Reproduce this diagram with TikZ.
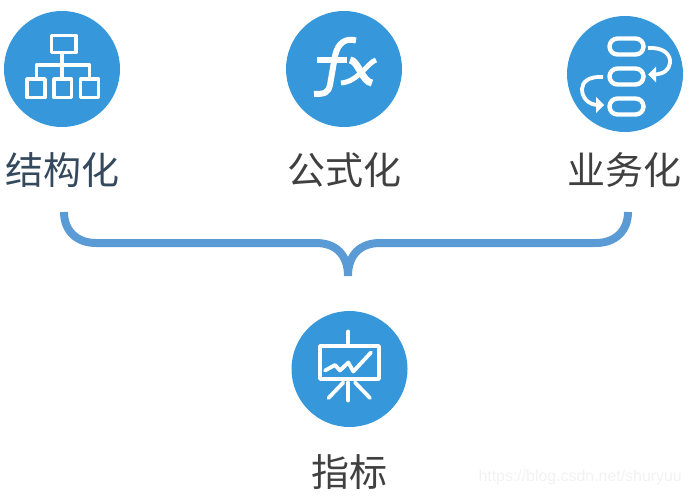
\documentclass[tikz,border=0pt]{standalone}
\usepackage{fontspec}
\setmainfont{Liberation Sans}
\newfontfamily\cjkfont{Noto Sans CJK SC}
\usetikzlibrary{calc}
\definecolor{discblue}{HTML}{3698DB}
\definecolor{braceblue}{HTML}{5B9BD5}
\definecolor{labelgray}{HTML}{404040}
\definecolor{labelslate}{HTML}{34495E}
\tikzset{
    disc/.style={circle, fill=discblue, draw=none, minimum size=116pt, inner sep=0pt},
    caption/.style={text=labelgray, inner sep=0pt, font=\cjkfont\fontsize{38}{38}\selectfont},
    icon/.style={draw=white, line width=3.8pt, line cap=round, line join=round},
    pill/.style={draw=white, line width=4.4pt, rounded corners=8pt, minimum width=34pt, minimum height=16pt, inner sep=0pt},
    brace/.style={draw=braceblue, line width=8pt},
    flow/.style={draw=white, line width=3.8pt},
    flowhead/.style={fill=white, draw=none},
    watermark/.style={text=black!5, inner sep=0pt, font=\fontsize{15.9}{15.9}\selectfont}
}

\begin{document}
\begin{tikzpicture}[x=1pt,y=-1pt]
    \useasboundingbox (0,0) rectangle (690,495);

    % Discs and their captions
    \node[disc] (struct) at (62,69) {};
    \node[disc] (formula) at (344,69) {};
    \node[disc] (business) at (625,74) {};
    \node[disc] (metric) at (349.5,369) {};
    \node[caption, text=labelslate] (structlabel) at (62.5,170) {结构化};
    \node[caption] (formulalabel) at (344,170) {公式化};
    \node[caption] (businesslabel) at (624,170) {业务化};
    \node[caption] (metriclabel) at (349,472) {指标};
    \node[watermark, anchor=east] (mark) at (682,477) {https://blog.csdn.net/shuryuu};

    % Brace joining the three captions to the metric
    \coordinate (bl) at (64,212);
    \coordinate (br) at (628,212);
    \coordinate (bm) at (348,276);
    \draw[brace] (bl) .. controls (64,231) and (77,243) .. (96,243) -- (316,243)
        .. controls (335,243) and (348,254) .. (bm);
    \draw[brace] (br) .. controls (628,231) and (615,243) .. (596,243) -- (380,243)
        .. controls (361,243) and (348,254) .. (bm);

    % Icon: org chart
    \draw[icon, line cap=butt] (62,52) -- (62,77);
    \draw[icon, line cap=butt] (36.5,77) -- (36.5,65) -- (89.5,65) -- (89.5,77);
    \draw[icon] (51.5,35.5) rectangle (76,52.5);
    \draw[icon] (27,79) rectangle (45,97.5);
    \draw[icon] (54,79) rectangle (71.5,97.5);
    \draw[icon] (80.5,79) rectangle (98.5,97.5);

    % Icon: fx
    \draw[icon, line width=6pt, line cap=butt] (356,40.5) .. controls (346,38) and (338,42) .. (335,56)
        -- (330,85) .. controls (328,93) and (325,94) .. (314,94);
    \draw[icon, line width=6pt, line cap=butt] (317,60) -- (347,60);
    \draw[icon, line width=7pt, line cap=butt] (350,60) .. controls (358,60) and (362,82) .. (372,83);
    \draw[icon, line width=5pt, line cap=butt] (376,60) .. controls (368,62) and (358,82) .. (341,83);

    % Icon: process pills
    \node[pill] (pilla) at (626.5,46.5) {};
    \node[pill] (pillb) at (626.5,76.5) {};
    \node[pill] (pillc) at (626.5,106.5) {};
    \draw[flow] (648,48) .. controls (664,47) and (671,55) .. (670,63) .. controls (669,70) and (664,74) .. (654,74.5);
    \fill[flowhead] (648,74.5) -- (656,66.5) -- (656,82.5) -- cycle;
    \draw[flow] (603,77) .. controls (589,76) and (582,82) .. (582,89) .. controls (582,98) and (588,104) .. (597,105);
    \fill[flowhead] (604,105) -- (596,97) -- (596,113) -- cycle;

    % Icon: chart on easel
    \draw[icon] (348.3,331.5) -- (348.3,343);
    \draw[icon, line width=3.6pt, line cap=butt] (320,346) rectangle (379,379);
    \draw[icon] (325,370.5) -- (335,365) -- (340,370.5) -- (348.3,362.5) -- (353.3,371.5) -- (371,352.5);
    \draw[icon] (348.3,382.5) -- (348.3,400.5);
    \draw[icon] (343.3,382.5) -- (328.5,398);
    \draw[icon] (355,382.5) -- (370,398);
\end{tikzpicture}
\end{document}
